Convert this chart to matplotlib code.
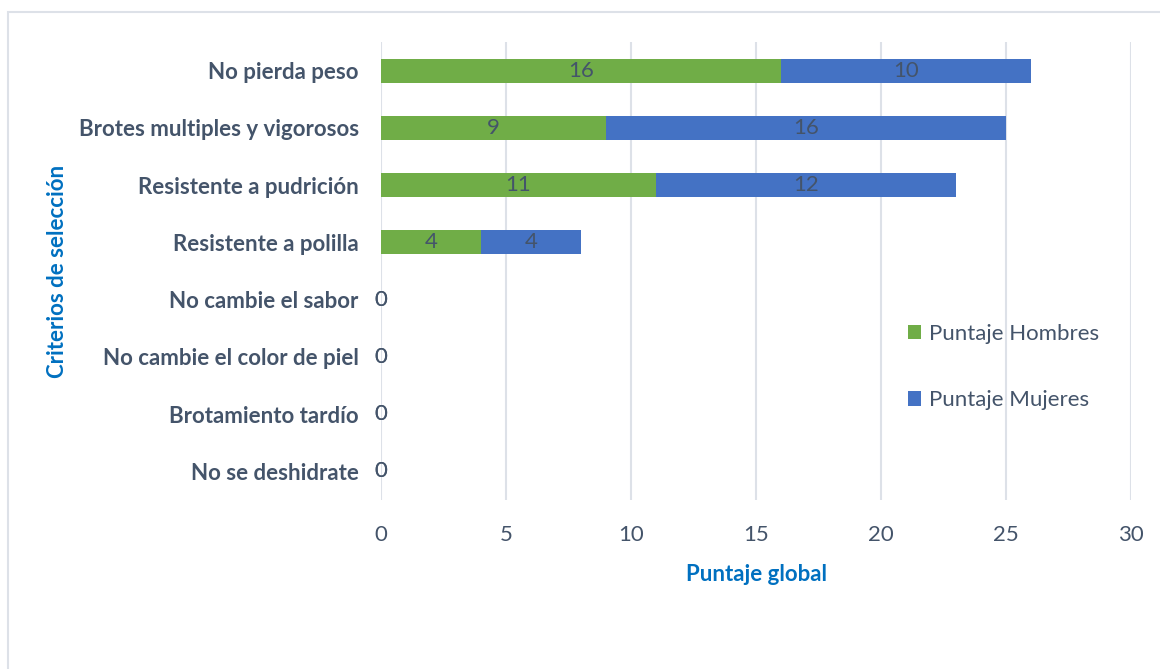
import matplotlib
matplotlib.use("Agg")
import matplotlib.pyplot as plt
from matplotlib.patches import Rectangle
import numpy as np

criterios = ["No pierda peso", "Brotes multiples y vigorosos", "Resistente a pudrición",
             "Resistente a polilla", "No cambie el sabor", "No cambie el color de piel",
             "Brotamiento tardío", "No se deshidrate"]
hombres = [16, 9, 11, 4, 0, 0, 0, 0]
mujeres = [10, 16, 12, 4, 0, 0, 0, 0]
xticks = [0, 5, 10, 15, 20, 25, 30]

plt.rcParams['font.family'] = ['Lato', 'DejaVu Sans']
txt = '#44546A'
green = '#70AD47'
blue = '#4472C4'

fig = plt.figure(figsize=(11.6, 6.69), dpi=100)
ax = fig.add_axes([381 / 1160, 1 - 500 / 669, 750 / 1160, 458 / 669])

y = np.arange(len(criterios))
b1 = ax.barh(y, hombres, height=0.42, color=green, label='Puntaje Hombres', zorder=3)
b2 = ax.barh(y, mujeres, left=hombres, height=0.42, color=blue, label='Puntaje Mujeres', zorder=3)
ax.bar_label(b1, label_type='center', color=txt, fontsize=16)
ax.bar_label(b2, label_type='center', color=txt, fontsize=16)

ax.set_ylim(len(criterios) - 0.5, -0.5)
ax.set_xlim(0, 30)
ax.set_xticks(xticks)
ax.set_yticks(y)
ax.set_yticklabels(criterios, fontweight='bold', fontsize=16, color=txt)
ax.tick_params(axis='x', labelsize=16, labelcolor=txt, length=0, pad=18)
ax.tick_params(axis='y', length=0, pad=16)
for s in ax.spines.values():
    s.set_visible(False)
ax.grid(axis='x', color='#DDE1E8', linewidth=1.5, zorder=0)

ax.set_xlabel('Puntaje global', fontsize=16, fontweight='bold', color='#0070C0', labelpad=14)
fig.text(58 / 1160, 1 - 271 / 669, 'Criterios de selección', rotation=90, fontsize=16,
         fontweight='bold', color='#0070C0', ha='center', va='center')

fig.legend(handles=[b1, b2], loc='center left', bbox_to_anchor=(888 / 1160, 1 - 367 / 669),
           frameon=False, fontsize=16, labelcolor=txt, labelspacing=2.1,
           handlelength=0.6, handleheight=0.6, handletextpad=0.35)

fig.patches.append(Rectangle((8 / 1160, -0.1), 1.2, 1 - 12 / 669 + 0.1, transform=fig.transFigure,
                             fill=False, edgecolor='#DDE1E8', linewidth=1.5))

fig.savefig('out.png', dpi=100)
